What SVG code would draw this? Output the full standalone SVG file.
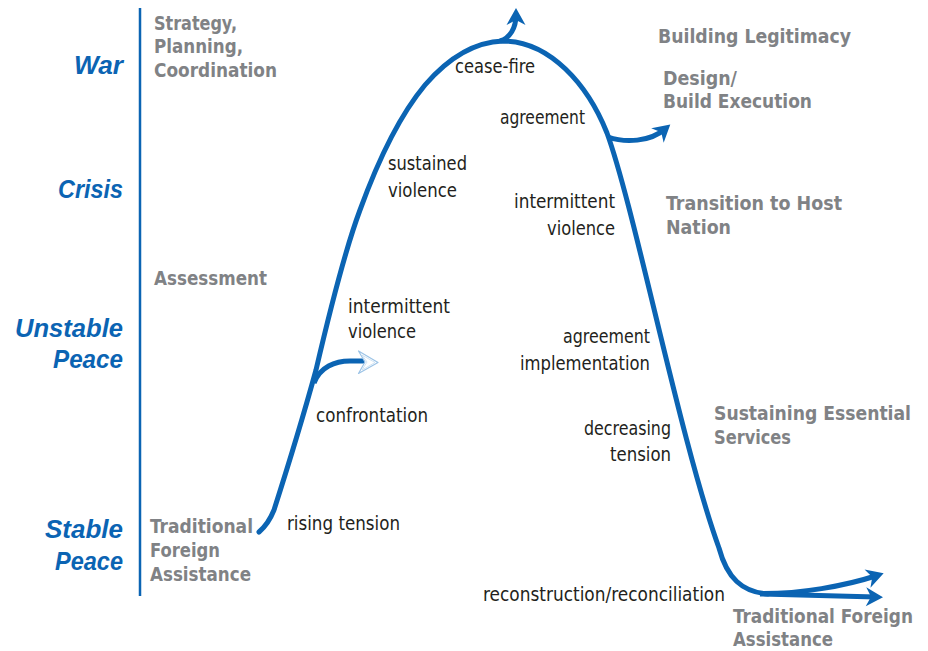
<svg xmlns="http://www.w3.org/2000/svg" width="928" height="651" viewBox="0 0 928 651">
<style>
.lvl{font-family:"Liberation Sans","Open Sans",sans-serif;font-weight:bold;font-style:italic;font-size:26px;fill:#0b64b3}
.act{font-family:"DejaVu Sans Condensed","DejaVu Sans",sans-serif;font-stretch:condensed;font-weight:bold;font-size:20px;fill:#808285}
.ph{font-family:"DejaVu Sans Condensed","DejaVu Sans",sans-serif;font-stretch:condensed;font-size:20px;fill:#231f20}
.curve{fill:none;stroke:#0b64b3;stroke-width:5;stroke-linecap:round}
.shaft{fill:none;stroke:#0b64b3;stroke-width:5;stroke-linecap:butt}
</style>
<defs>
<marker id="ah" markerUnits="userSpaceOnUse" viewBox="-12 -11 20 22" refX="0" refY="0" markerWidth="20" markerHeight="22" orient="auto">
<path d="M7,0 L-10,-9.5 L-5,0 L-10,9.5 Z" fill="#0b64b3"/>
</marker>
</defs>
<rect width="928" height="651" fill="#ffffff"/>
<g id="axis"><line x1="140" y1="8" x2="140" y2="596" stroke="#0b64b3" stroke-width="2.5"/></g>
<g id="connectors">
<path class="curve" d="M259,532 C266,526 270,520 274,510 C290,460 305,410 316,370 C330,310 345,250 360,210 C380,155 400,115 425,85 C450,56 475,42 503,41 C550,41 588,85 607,133 C635,210 680,440 719,548 C727,578 742,592 768,594"/>
<path class="shaft" d="M500,41 C510,38 516,28 516,15" marker-end="url(#ah)"/>
<path class="shaft" d="M608,137 C625,143 650,142 665,129" marker-end="url(#ah)"/>
<path class="shaft" d="M760,593.5 C800,594 845,586 877,575.5" marker-end="url(#ah)"/>
<path class="shaft" d="M760,594 L876,597" marker-end="url(#ah)"/>
<path class="shaft" d="M314,383 C320,367 335,361 350,361 L365,361"/>
<path d="M378,362.5 L358.5,351 L365,362 L358.5,373.5 Z" fill="#ffffff" stroke="#9cc3e6" stroke-width="1.2" stroke-linejoin="round"/>
<path d="M375,362.5 L362,355 L367,362 L362,370 Z" fill="none" stroke="#c5dcf0" stroke-width="0.8"/>
</g>
<g id="lvl-war"><text class="lvl" x="74" y="74" textLength="49" lengthAdjust="spacingAndGlyphs">War</text></g>
<g id="lvl-crisis"><text class="lvl" x="58" y="198" textLength="65" lengthAdjust="spacingAndGlyphs">Crisis</text></g>
<g id="lvl-unstable"><text class="lvl" x="15" y="337" textLength="108" lengthAdjust="spacingAndGlyphs">Unstable</text><text class="lvl" x="53" y="368" textLength="70" lengthAdjust="spacingAndGlyphs">Peace</text></g>
<g id="lvl-stable"><text class="lvl" x="45" y="538" textLength="78" lengthAdjust="spacingAndGlyphs">Stable</text><text class="lvl" x="55" y="570" textLength="68" lengthAdjust="spacingAndGlyphs">Peace</text></g>
<g id="act-strategy"><text class="act" x="154" y="30" textLength="83" lengthAdjust="spacingAndGlyphs">Strategy,</text><text class="act" x="154" y="53" textLength="89" lengthAdjust="spacingAndGlyphs">Planning,</text><text class="act" x="154" y="77" textLength="123" lengthAdjust="spacingAndGlyphs">Coordination</text></g>
<g id="act-assessment"><text class="act" x="154" y="285" textLength="113" lengthAdjust="spacingAndGlyphs">Assessment</text></g>
<g id="act-tfa-left"><text class="act" x="150" y="533" textLength="103" lengthAdjust="spacingAndGlyphs">Traditional</text><text class="act" x="150" y="557" textLength="70" lengthAdjust="spacingAndGlyphs">Foreign</text><text class="act" x="150" y="581" textLength="101" lengthAdjust="spacingAndGlyphs">Assistance</text></g>
<g id="act-legitimacy"><text class="act" x="658" y="43" textLength="193" lengthAdjust="spacingAndGlyphs">Building Legitimacy</text></g>
<g id="act-design"><text class="act" x="663" y="85" textLength="74" lengthAdjust="spacingAndGlyphs">Design/</text><text class="act" x="663" y="108" textLength="149" lengthAdjust="spacingAndGlyphs">Build Execution</text></g>
<g id="act-transition"><text class="act" x="666" y="210" textLength="176" lengthAdjust="spacingAndGlyphs">Transition to Host</text><text class="act" x="666" y="234" textLength="65" lengthAdjust="spacingAndGlyphs">Nation</text></g>
<g id="act-services"><text class="act" x="714" y="420" textLength="197" lengthAdjust="spacingAndGlyphs">Sustaining Essential</text><text class="act" x="714" y="444" textLength="77" lengthAdjust="spacingAndGlyphs">Services</text></g>
<g id="act-tfa-right"><text class="act" x="733" y="623" textLength="180" lengthAdjust="spacingAndGlyphs">Traditional Foreign</text><text class="act" x="733" y="646" textLength="100" lengthAdjust="spacingAndGlyphs">Assistance</text></g>
<g id="ph-ceasefire"><text class="ph" x="455" y="73" textLength="80" lengthAdjust="spacingAndGlyphs">cease-fire</text></g>
<g id="ph-agreement"><text class="ph" x="500" y="124" textLength="85" lengthAdjust="spacingAndGlyphs">agreement</text></g>
<g id="ph-sustained"><text class="ph" x="388" y="170" textLength="79" lengthAdjust="spacingAndGlyphs">sustained</text><text class="ph" x="388" y="197" textLength="69" lengthAdjust="spacingAndGlyphs">violence</text></g>
<g id="ph-intermittent-up"><text class="ph" x="348" y="313" textLength="102" lengthAdjust="spacingAndGlyphs">intermittent</text><text class="ph" x="348" y="338" textLength="68" lengthAdjust="spacingAndGlyphs">violence</text></g>
<g id="ph-confrontation"><text class="ph" x="316" y="422" textLength="112" lengthAdjust="spacingAndGlyphs">confrontation</text></g>
<g id="ph-rising"><text class="ph" x="287" y="530" textLength="113" lengthAdjust="spacingAndGlyphs">rising tension</text></g>
<g id="ph-intermittent-down"><text class="ph" x="514" y="208" textLength="101" lengthAdjust="spacingAndGlyphs">intermittent</text><text class="ph" x="547" y="235" textLength="68" lengthAdjust="spacingAndGlyphs">violence</text></g>
<g id="ph-implementation"><text class="ph" x="563" y="343" textLength="87" lengthAdjust="spacingAndGlyphs">agreement</text><text class="ph" x="520" y="370" textLength="130" lengthAdjust="spacingAndGlyphs">implementation</text></g>
<g id="ph-decreasing"><text class="ph" x="584" y="435" textLength="87" lengthAdjust="spacingAndGlyphs">decreasing</text><text class="ph" x="610" y="461" textLength="61" lengthAdjust="spacingAndGlyphs">tension</text></g>
<g id="ph-reconstruction"><text class="ph" x="483" y="601" textLength="242" lengthAdjust="spacingAndGlyphs">reconstruction/reconciliation</text></g>
</svg>
